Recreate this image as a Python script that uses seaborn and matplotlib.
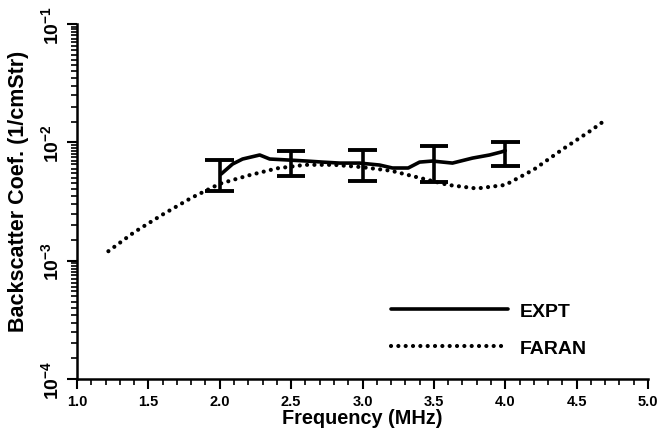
import numpy as np
import pandas as pd
import matplotlib
matplotlib.use("Agg")
import matplotlib.pyplot as plt
from matplotlib.ticker import LogLocator, MultipleLocator, NullFormatter
import seaborn as sns

# valores
expt_freq = [2.01, 2.09, 2.16, 2.28, 2.35, 2.49, 2.61, 2.72, 2.84, 2.98, 3.12, 3.21,
             3.32, 3.40, 3.49, 3.63, 3.77, 3.89, 3.97, 4.0]
expt_coef = [5.4e-3, 6.56e-3, 7.23e-3, 7.82e-3, 7.23e-3, 7.08e-3, 6.95e-3, 6.81e-3,
             6.68e-3, 6.68e-3, 6.43e-3, 6.07e-3, 6.07e-3, 6.81e-3, 6.95e-3, 6.68e-3,
             7.36e-3, 7.82e-3, 8.28e-3, 8.5e-3]

faran_freq = [1.22, 1.4, 1.6, 1.8, 2.0, 2.2, 2.4, 2.6, 2.8, 3.0, 3.2, 3.4, 3.6,
              3.8, 4.0, 4.2, 4.4, 4.6, 4.68]
faran_log = [-2.92, -2.76, -2.61, -2.47, -2.35, -2.28, -2.22, -2.19, -2.19, -2.21,
             -2.24, -2.30, -2.36, -2.39, -2.36, -2.23, -2.06, -1.90, -1.83]
faran_coef = [10 ** v for v in faran_log]

err_freq = [2.0, 2.5, 3.0, 3.5, 4.0]
err_upper = [7.1e-3, 8.4e-3, 8.6e-3, 9.35e-3, 1.0e-2]
err_lower = [3.9e-3, 5.2e-3, 4.75e-3, 4.6e-3, 6.35e-3]

sns.set_theme(style="ticks")
plt.rcParams['font.family'] = ['Liberation Sans', 'DejaVu Sans']
plt.rcParams['font.weight'] = 'bold'
plt.rcParams['text.color'] = 'black'
plt.rcParams['axes.labelcolor'] = 'black'
plt.rcParams['mathtext.fontset'] = 'custom'
plt.rcParams['mathtext.rm'] = 'Liberation Sans:bold'
plt.rcParams['mathtext.bf'] = 'Liberation Sans:bold'
plt.rcParams['mathtext.default'] = 'bf'

fig = plt.figure(figsize=(6.66, 4.39), dpi=100)
ax = fig.add_axes([0.1156, 0.1344, 0.8574, 0.8086])

df_expt = pd.DataFrame({'f': expt_freq, 'c': expt_coef})
df_faran = pd.DataFrame({'f': faran_freq, 'c': faran_coef})

sns.lineplot(data=df_expt, x='f', y='c', ax=ax, color='black', lw=2.6,
             label='EXPT', estimator=None, sort=False)
sns.lineplot(data=df_faran, x='f', y='c', ax=ax, color='black', lw=3.0,
             label='FARAN', estimator=None, sort=False,
             linestyle=(0, (0.01, 1.75)), dash_capstyle='round')

# barras de erro
ax.vlines(err_freq, err_lower, err_upper, color='black', lw=2.6)
ax.hlines(err_upper, [f - 0.1 for f in err_freq], [f + 0.1 for f in err_freq],
          color='black', lw=2.8)
ax.hlines(err_lower, [f - 0.1 for f in err_freq], [f + 0.1 for f in err_freq],
          color='black', lw=2.8)

ax.set_yscale('log')
ax.set_xlim(1.0, 5.0)
ax.set_ylim(1e-4, 1e-1)

ax.xaxis.set_major_locator(MultipleLocator(0.5))
ax.xaxis.set_minor_locator(MultipleLocator(0.1))
ax.xaxis.set_major_formatter(plt.FuncFormatter(lambda v, p: f'{v:.1f}'))
ax.yaxis.set_major_locator(LogLocator(base=10, numticks=10))
ax.yaxis.set_minor_locator(LogLocator(base=10, subs=np.arange(1.5, 10, 0.5), numticks=20))
ax.yaxis.set_minor_formatter(NullFormatter())

ax.tick_params(axis='both', which='major', direction='out', length=7, width=1.5,
               color='black', labelcolor='black')
ax.tick_params(axis='both', which='minor', direction='out', length=4, width=1.2,
               color='black')
ax.tick_params(axis='x', which='major', pad=4, labelsize=10.5)
ax.tick_params(axis='y', which='major', pad=4, labelsize=14)
for lab in ax.get_yticklabels():
    lab.set_rotation(90)
    lab.set_va('center')
for lab in ax.get_xticklabels() + ax.get_yticklabels():
    lab.set_fontweight('bold')

for s in ['left', 'bottom']:
    ax.spines[s].set_linewidth(1.8)
    ax.spines[s].set_color('black')
sns.despine(ax=ax)

ax.set_xlabel('Frequency (MHz)', fontsize=14.3, fontweight='bold', labelpad=0)
ax.set_ylabel('Backscatter Coef. (1/cmStr)', fontsize=15.5, fontweight='bold', labelpad=2)
ax.yaxis.set_label_coords(-0.084, 0.53)

leg = ax.legend(loc='upper left', bbox_to_anchor=(0.52, 0.265), frameon=False,
                handlelength=6.0, handletextpad=0.6, labelspacing=1.0,
                prop={'family': 'Liberation Sans', 'weight': 'bold', 'size': 14})

ax.grid(False)
fig.savefig('out.png', dpi=100)
